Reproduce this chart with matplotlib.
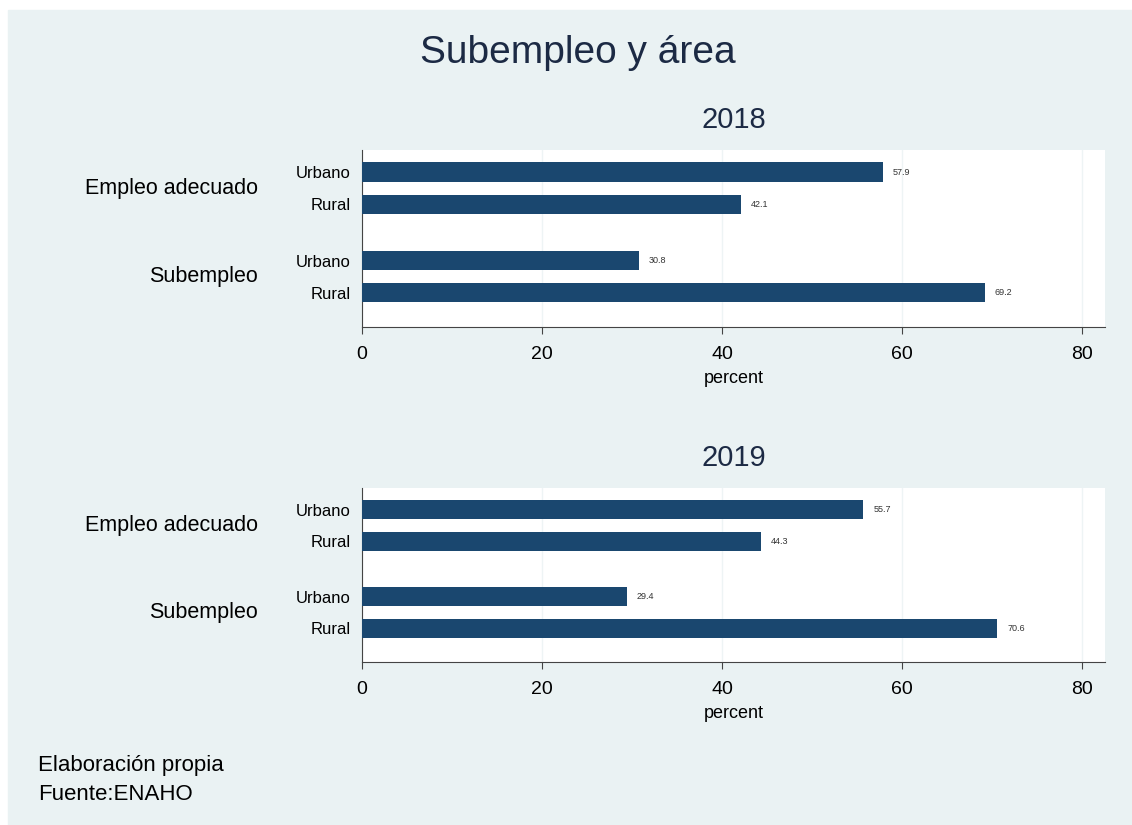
import numpy as np
import matplotlib.pyplot as plt

plt.rcParams['font.family'] = ['Liberation Sans', 'DejaVu Sans']

# data
grupos = ['Empleo adecuado', 'Subempleo']
areas = ['Urbano', 'Rural']
anios = ['2018', '2019']
pct_2018 = [57.9, 42.1, 30.8, 69.2]
pct_2019 = [55.7, 44.3, 29.4, 70.6]
ticks_x = [0, 20, 40, 60, 80]

W, H = 1132, 825
bg = '#EAF2F3'
navy = '#1A476F'

fig = plt.figure(figsize=(W / 100, H / 100), dpi=100, facecolor='white')
# graph region (light background), small white margin on top/left
fig.patches.append(plt.Rectangle((8 / W, 0), 1 - 8 / W, 1 - 10 / H,
                                 transform=fig.transFigure, color=bg, zorder=-1))

fig.text(578 / W, 1 - 53 / H, 'Subempleo y área', ha='center', va='center',
         fontsize=28, color='#1c2a44')

# bar positions: 32 px inside group, 88 px between groups
ypos = np.array([0, 1, 2.75, 3.75])
ygrp = [0.5, 3.25]

panels = [(pct_2018, anios[0], 150, 327), (pct_2019, anios[1], 488, 662)]

for vals, anio, top, bottom in panels:
    left, right = 362, 1105
    ax = fig.add_axes([left / W, 1 - bottom / H, (right - left) / W, (bottom - top) / H])
    ax.set_facecolor('white')
    ax.barh(ypos, vals, height=0.6, color=navy, zorder=3)
    ax.set_xlim(0, 82.55)
    ax.set_ylim(3.75 + 34 / 32, -22 / 32)
    for y, v in zip(ypos, vals):
        ax.text(v + 1.1, y, '%.1f' % v, va='center', ha='left', fontsize=6.5, color='#333333')
    ax.set_xticks(ticks_x)
    ax.tick_params(axis='x', labelsize=14, length=5, color='#444444', pad=9)
    ax.set_yticks(ypos)
    ax.set_yticklabels(areas * 2)
    ax.tick_params(axis='y', length=0, labelsize=12, pad=8)
    ax.grid(axis='x', color='#EEF4F5', lw=1, zorder=0)
    for s in ['top', 'right']:
        ax.spines[s].set_visible(False)
    ax.spines['left'].set_color('#444444')
    ax.spines['bottom'].set_color('#444444')
    ax.set_xlabel('percent', fontsize=13, labelpad=5)
    ax.set_title(anio, fontsize=21, pad=16, color='#1c2a44')
    for g, yg in zip(grupos, ygrp):
        ax.text(258 / W, yg, g, transform=ax.get_yaxis_transform().__class__(fig.transFigure, ax.transData),
                ha='right', va='center', fontsize=15.5)

fig.text(38 / W, 1 - 766 / H, 'Elaboración propia', ha='left', va='center', fontsize=16)
fig.text(38 / W, 1 - 795 / H, 'Fuente:ENAHO', ha='left', va='center', fontsize=16)

plt.savefig('out.png', dpi=100, facecolor='white')
